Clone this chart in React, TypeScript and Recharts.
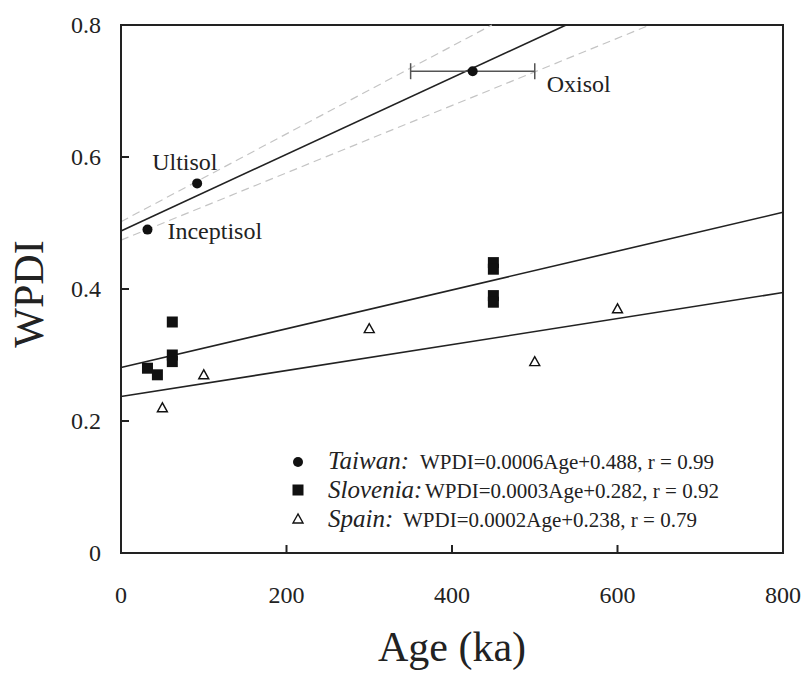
import React from 'react';
import {
  ScatterChart,
  Scatter,
  XAxis,
  YAxis,
  ReferenceLine,
  ReferenceArea,
  ErrorBar,
  Customized,
  Label,
} from 'recharts';

const FONT = '"Liberation Serif", "Times New Roman", Times, serif';
const INK = '#222';

// ---- data ----
const xTicks = [0, 200, 400, 600, 800];
const yTicks = [0, 0.2, 0.4, 0.6, 0.8];

const taiwanAge = [32, 92, 425];
const taiwanWpdi = [0.49, 0.56, 0.73];
const taiwanErr = [0, 0, 75];
const taiwanNames = ['Inceptisol', 'Ultisol', 'Oxisol'];

const sloveniaAge = [32, 44, 62, 62, 62, 450, 450, 450, 450];
const sloveniaWpdi = [0.28, 0.27, 0.35, 0.3, 0.29, 0.44, 0.43, 0.39, 0.38];

const spainAge = [50, 100, 300, 500, 600];
const spainWpdi = [0.22, 0.27, 0.34, 0.29, 0.37];

// fitted lines as drawn: [intercept, slope]
const taiwanFit = [0.488, 0.00058];
const taiwanUpper = [0.502, 0.000665];
const taiwanLower = [0.474, 0.00051];
const sloveniaFit = [0.281, 0.000294];
const spainFit = [0.237, 0.000197];

const legendNames = ['Taiwan:', 'Slovenia:', 'Spain:'];
const legendEquations = [
  'WPDI=0.0006Age+0.488, r = 0.99',
  'WPDI=0.0003Age+0.282, r = 0.92',
  'WPDI=0.0002Age+0.238, r = 0.79',
];

// ---- built tables ----
const taiwanData = taiwanAge.map((x, i) => ({ x, y: taiwanWpdi[i], err: taiwanErr[i], name: taiwanNames[i] }));
const sloveniaData = sloveniaAge.map((x, i) => ({ x, y: sloveniaWpdi[i] }));
const spainData = spainAge.map((x, i) => ({ x, y: spainWpdi[i] }));

const X_MAX = 800;
const Y_MAX = 0.8;
const seg = (fit: number[]) => {
  const [b, m] = fit;
  const xEnd = Math.min(X_MAX, (Y_MAX - b) / m);
  return [
    { x: 0, y: b },
    { x: xEnd, y: b + m * xEnd },
  ];
};

const labelOffsets: Record<string, [number, number]> = {
  Inceptisol: [20, 9],
  Ultisol: [-45, -13],
  Oxisol: [74, 21],
};

const CircleShape = (p: any) => {
  const { cx, cy, payload } = p;
  const off = payload && labelOffsets[payload.name];
  return (
    <g>
      <circle cx={cx} cy={cy} r={5} fill="#111" />
      {off && (
        <text x={cx + off[0]} y={cy + off[1]} style={{ fontFamily: FONT }} fontSize={24} fill={INK}>
          {payload.name}
        </text>
      )}
    </g>
  );
};

const SquareShape = (p: any) => (
  <rect x={p.cx - 5.5} y={p.cy - 5.5} width={11} height={11} fill="#111" />
);

const TriangleShape = (p: any) => (
  <polygon
    points={`${p.cx},${p.cy - 5} ${p.cx - 5},${p.cy + 4} ${p.cx + 5},${p.cy + 4}`}
    fill="#fff"
    stroke="#111"
    strokeWidth={1.4}
  />
);

const XTick = (p: any) => {
  const { x, y, payload } = p;
  return (
    <g>
      <line x1={x} y1={y} x2={x} y2={y - 8} stroke={INK} strokeWidth={2} />
      <text x={x} y={y + 50} textAnchor="middle" style={{ fontFamily: FONT }} fontSize={24} fill={INK}>
        {payload.value}
      </text>
    </g>
  );
};

const YTick = (p: any) => {
  const { x, y, payload } = p;
  return (
    <g>
      <line x1={x} y1={y} x2={x + 8} y2={y} stroke={INK} strokeWidth={2} />
      <text x={x - 20} y={y + 8} textAnchor="end" style={{ fontFamily: FONT }} fontSize={24} fill={INK}>
        {payload.value === 0 ? '0' : payload.value.toFixed(1)}
      </text>
    </g>
  );
};

const LegendBlock = () => {
  const rows = [
    { cy: 462, base: 469, eqX: 420 },
    { cy: 490, base: 498, eqX: 425 },
    { cy: 519, base: 527, eqX: 403 },
  ];
  const mx = 298;
  return (
    <g>
      <circle cx={mx} cy={rows[0].cy} r={5} fill="#111" />
      <rect x={mx - 5.5} y={rows[1].cy - 5.5} width={11} height={11} fill="#111" />
      <polygon
        points={`${mx},${rows[2].cy - 5} ${mx - 5},${rows[2].cy + 4} ${mx + 5},${rows[2].cy + 4}`}
        fill="#fff"
        stroke="#111"
        strokeWidth={1.4}
      />
      {rows.map((r, i) => (
        <text key={i} y={r.base} style={{ fontFamily: FONT }} fill={INK}>
          <tspan x={328} fontStyle="italic" fontSize={25}>
            {legendNames[i]}
          </tspan>
          <tspan x={r.eqX} fontSize={21}>
            {legendEquations[i]}
          </tspan>
        </text>
      ))}
    </g>
  );
};

const YTitle = (p: any) => {
  const vb = p.viewBox || {};
  const cx = 29;
  const cy = (vb.y ?? 25) + (vb.height ?? 528) / 2 + 5;
  return (
    <text
      x={cx}
      y={cy}
      transform={`rotate(-90 ${cx} ${cy})`}
      textAnchor="middle"
      dominantBaseline="central"
      style={{ fontFamily: FONT }}
      fontSize={42}
      fill={INK}
    >
      WPDI
    </text>
  );
};

const XTitle = (p: any) => {
  const vb = p.viewBox || {};
  const cx = (vb.x ?? 121) + (vb.width ?? 662) / 2;
  return (
    <text x={cx} y={661} textAnchor="middle" style={{ fontFamily: FONT }} fontSize={42} fill={INK}>
      Age (ka)
    </text>
  );
};

export default function App() {
  return (
    <div style={{ position: 'absolute', left: 0, top: 0, background: '#fff' }}>
      <ScatterChart width={803} height={675} margin={{ top: 25, right: 20, bottom: 121, left: 120 }}>
        <XAxis
          type="number"
          dataKey="x"
          domain={[0, X_MAX]}
          ticks={xTicks}
          interval={0}
          height={1}
          tickSize={0}
          tickMargin={0}
          tickLine={false}
          tick={<XTick />}
          axisLine={{ stroke: INK, strokeWidth: 2 }}
          allowDataOverflow
        >
          <Label content={<XTitle />} />
        </XAxis>
        <YAxis
          type="number"
          dataKey="y"
          domain={[0, Y_MAX]}
          ticks={yTicks}
          interval={0}
          width={1}
          tickSize={0}
          tickMargin={0}
          tickLine={false}
          tick={<YTick />}
          axisLine={{ stroke: INK, strokeWidth: 2 }}
          allowDataOverflow
        >
          <Label content={<YTitle />} />
        </YAxis>
        <ReferenceArea x1={0} x2={X_MAX} y1={0} y2={Y_MAX} fill="none" stroke={INK} strokeWidth={2} ifOverflow="visible" />

        <ReferenceLine segment={seg(taiwanUpper)} stroke="#c4c4c4" strokeWidth={1.2} strokeDasharray="8 5" ifOverflow="visible" />
        <ReferenceLine segment={seg(taiwanLower)} stroke="#c4c4c4" strokeWidth={1.2} strokeDasharray="8 5" ifOverflow="visible" />
        <ReferenceLine segment={seg(taiwanFit)} stroke={INK} strokeWidth={1.6} ifOverflow="visible" />
        <ReferenceLine segment={seg(sloveniaFit)} stroke={INK} strokeWidth={1.6} ifOverflow="visible" />
        <ReferenceLine segment={seg(spainFit)} stroke={INK} strokeWidth={1.6} ifOverflow="visible" />

        <Scatter data={spainData} shape={<TriangleShape />} isAnimationActive={false} />
        <Scatter data={sloveniaData} shape={<SquareShape />} isAnimationActive={false} />
        <Scatter data={taiwanData} shape={<CircleShape />} isAnimationActive={false}>
          <ErrorBar dataKey="err" direction="x" width={8} stroke="#555" strokeWidth={1.5} />
        </Scatter>

        <Customized component={<LegendBlock />} />
      </ScatterChart>
    </div>
  );
}
